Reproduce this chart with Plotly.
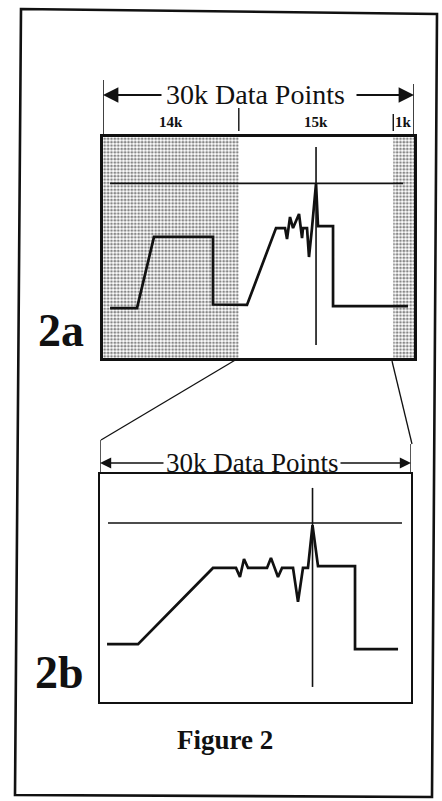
import plotly.graph_objects as go

W, H = 442, 801


def px_x(p):
    return p / W


def px_y(p):
    return 1 - p / H


# ---------------- data (x in thousands of data points, y amplitude 0-100) -------------
# Figure 2a: full 30k record
A_SIG_X = [0.68, 3.28, 4.92, 10.61, 10.61, 13.89, 16.69, 17.56, 17.75, 18.04, 18.33, 18.91,
           19.20, 19.29, 19.68, 19.87, 20.16, 20.55, 20.74, 22.19, 22.19, 29.42]
A_SIG_Y = [22.6, 22.6, 54.8, 54.8, 24.2, 24.0, 58.8, 58.8, 53.8, 63.8, 58.8, 65.2,
           54.3, 58.8, 58.8, 45.7, 58.8, 79.0, 59.7, 59.7, 23.5, 23.5]
A_THRESH_X = [0.68, 28.94]
A_THRESH_Y = [79.0, 79.0]
A_CURSOR_X = [20.55, 20.55]
A_CURSOR_Y = [5.9, 95.5]
A_SHADE = [[0.0, 13.1], [28.0, 30.0]]
SEG_EDGES = [0.0, 13.1, 28.0, 30.0]
SEG_LABELS = ["14k", "15k", "1k"]

# Figure 2b: the 15k window re-displayed over 30k points
B_SIG_X = [0.68, 3.67, 10.90, 13.12, 13.50, 13.89, 14.28, 16.11, 16.49, 17.17, 17.56, 18.62,
           19.10, 19.58, 20.06, 20.50, 21.03, 24.60, 24.60, 28.75]
B_SIG_Y = [25.4, 25.4, 58.8, 58.8, 54.8, 62.7, 58.8, 58.8, 63.2, 54.8, 58.8, 58.8,
           43.9, 58.8, 58.8, 77.6, 59.6, 59.6, 23.2, 23.2]
B_THRESH_X = [0.77, 29.13]
B_THRESH_Y = [78.5, 78.5]
B_CURSOR_X = [20.5, 20.5]
B_CURSOR_Y = [6.6, 93.9]

HEADER_TEXT = "30k Data Points"
PANEL_LABELS = ["2a", "2b"]
CAPTION = "Figure 2"

SERIF = "Liberation Serif, Times New Roman, serif"
INK = "#111111"

fig = go.Figure()

# stippled (shaded) regions of 2a
for x0, x1 in A_SHADE:
    fig.add_trace(go.Scatter(
        x=[x0, x1, x1, x0, x0], y=[0, 0, 100, 100, 0], mode="lines",
        line=dict(width=0, color="rgba(0,0,0,0)"), fill="toself",
        fillcolor="rgba(0,0,0,0)",
        fillpattern=dict(shape=".", size=3.4, solidity=0.5, fgcolor="#111111", bgcolor="white"),
        xaxis="x", yaxis="y", hoverinfo="skip", showlegend=False))

# 2a traces
fig.add_trace(go.Scatter(x=A_THRESH_X, y=A_THRESH_Y, mode="lines",
                         line=dict(color=INK, width=1.6), xaxis="x", yaxis="y", showlegend=False))
fig.add_trace(go.Scatter(x=A_CURSOR_X, y=A_CURSOR_Y, mode="lines",
                         line=dict(color=INK, width=1.6), xaxis="x", yaxis="y", showlegend=False))
fig.add_trace(go.Scatter(x=A_SIG_X, y=A_SIG_Y, mode="lines",
                         line=dict(color=INK, width=2.7), xaxis="x", yaxis="y", showlegend=False))

# 2b traces
fig.add_trace(go.Scatter(x=B_THRESH_X, y=B_THRESH_Y, mode="lines",
                         line=dict(color=INK, width=1.6), xaxis="x2", yaxis="y2", showlegend=False))
fig.add_trace(go.Scatter(x=B_CURSOR_X, y=B_CURSOR_Y, mode="lines",
                         line=dict(color=INK, width=1.6), xaxis="x2", yaxis="y2", showlegend=False))
fig.add_trace(go.Scatter(x=B_SIG_X, y=B_SIG_Y, mode="lines",
                         line=dict(color=INK, width=2.7), xaxis="x2", yaxis="y2", showlegend=False))

axis_common = dict(showline=True, mirror=True, linecolor=INK, showgrid=False, zeroline=False,
                   showticklabels=False, ticks="", fixedrange=True)

fig.update_layout(
    width=W, height=H, margin=dict(l=0, r=0, t=0, b=0),
    paper_bgcolor="white", plot_bgcolor="rgba(0,0,0,0)", showlegend=False,
    xaxis=dict(domain=[px_x(103), px_x(414)], range=[0, 30], anchor="y", linewidth=2.6, **axis_common),
    yaxis=dict(domain=[px_y(358), px_y(137)], range=[0, 100], anchor="x", linewidth=2.6, **axis_common),
    xaxis2=dict(domain=[px_x(100), px_x(411)], range=[0, 30], anchor="y2", linewidth=2.2, **axis_common),
    yaxis2=dict(domain=[px_y(702), px_y(474)], range=[0, 100], anchor="x2", linewidth=2.2, **axis_common),
)

shapes = []
annotations = []

# ---- header of 2a ----
hdr_a = 95
shapes.append(dict(type="line", xref="x", yref="paper", x0=SEG_EDGES[0], x1=SEG_EDGES[0],
                   y0=px_y(80), y1=px_y(137), line=dict(color=INK, width=1.6)))
shapes.append(dict(type="line", xref="x", yref="paper", x0=SEG_EDGES[-1], x1=SEG_EDGES[-1],
                   y0=px_y(84), y1=px_y(137), line=dict(color=INK, width=1.6)))
shapes.append(dict(type="line", xref="x", yref="paper", x0=SEG_EDGES[1], x1=SEG_EDGES[1],
                   y0=px_y(108), y1=px_y(131), line=dict(color=INK, width=1.4)))
shapes.append(dict(type="line", xref="x", yref="paper", x0=SEG_EDGES[2], x1=SEG_EDGES[2],
                   y0=px_y(114), y1=px_y(131), line=dict(color=INK, width=1.4)))
annotations.append(dict(text=HEADER_TEXT, xref="x", yref="paper", x=14.7, y=px_y(hdr_a),
                        showarrow=False, font=dict(family=SERIF, size=28, color=INK),
                        xanchor="center", yanchor="middle"))
annotations.append(dict(text="", xref="x", yref="paper", x=SEG_EDGES[0], y=px_y(hdr_a),
                        ax=60, ay=0, showarrow=True, arrowhead=2, arrowsize=1.4,
                        arrowwidth=2.2, arrowcolor=INK))
annotations.append(dict(text="", xref="x", yref="paper", x=SEG_EDGES[-1], y=px_y(hdr_a),
                        ax=-59, ay=0, showarrow=True, arrowhead=2, arrowsize=1.4,
                        arrowwidth=2.2, arrowcolor=INK))
for i, lab in enumerate(SEG_LABELS):
    annotations.append(dict(text="<b>%s</b>" % lab, xref="x", yref="paper",
                            x=(SEG_EDGES[i] + SEG_EDGES[i + 1]) / 2, y=px_y(122),
                            showarrow=False, font=dict(family=SERIF, size=15, color=INK),
                            xanchor="center", yanchor="middle"))

# ---- connectors from 2a to 2b ----
shapes.append(dict(type="line", xref="paper", yref="paper", x0=px_x(237), y0=px_y(359),
                   x1=px_x(101), y1=px_y(440), line=dict(color=INK, width=1.3)))
shapes.append(dict(type="line", xref="paper", yref="paper", x0=px_x(392), y0=px_y(361),
                   x1=px_x(412), y1=px_y(444), line=dict(color=INK, width=1.3)))

# ---- header of 2b ----
hdr_b = 463
shapes.append(dict(type="line", xref="x2", yref="paper", x0=0, x1=0,
                   y0=px_y(440), y1=px_y(474), line=dict(color=INK, width=1.4)))
shapes.append(dict(type="line", xref="x2", yref="paper", x0=30, x1=30,
                   y0=px_y(444), y1=px_y(474), line=dict(color=INK, width=1.4)))
annotations.append(dict(text=HEADER_TEXT, xref="x2", yref="paper", x=14.7, y=px_y(hdr_b),
                        showarrow=False, font=dict(family=SERIF, size=27, color=INK),
                        xanchor="center", yanchor="middle"))
annotations.append(dict(text="", xref="x2", yref="paper", x=0, y=px_y(hdr_b),
                        ax=65, ay=0, showarrow=True, arrowhead=2, arrowsize=1.4,
                        arrowwidth=1.6, arrowcolor=INK))
annotations.append(dict(text="", xref="x2", yref="paper", x=30, y=px_y(hdr_b),
                        ax=-72, ay=0, showarrow=True, arrowhead=2, arrowsize=1.4,
                        arrowwidth=1.6, arrowcolor=INK))

# ---- panel labels and caption ----
annotations.append(dict(text="<b>%s</b>" % PANEL_LABELS[0], xref="paper", yref="paper",
                        x=px_x(61), y=px_y(330), showarrow=False,
                        font=dict(family=SERIF, size=46, color=INK), xanchor="center", yanchor="middle"))
annotations.append(dict(text="<b>%s</b>" % PANEL_LABELS[1], xref="paper", yref="paper",
                        x=px_x(59), y=px_y(672), showarrow=False,
                        font=dict(family=SERIF, size=46, color=INK), xanchor="center", yanchor="middle"))
annotations.append(dict(text="<b>%s</b>" % CAPTION, xref="paper", yref="paper",
                        x=px_x(225), y=px_y(740), showarrow=False,
                        font=dict(family=SERIF, size=27, color=INK), xanchor="center", yanchor="middle"))

# ---- outer frame ----
corners = [(21, 9), (437, 14), (432, 797), (15, 795)]
path = "M " + " L ".join("%f,%f" % (px_x(cx), px_y(cy)) for cx, cy in corners) + " Z"
shapes.append(dict(type="path", xref="paper", yref="paper", path=path,
                   line=dict(color=INK, width=2.6)))

fig.update_layout(shapes=shapes, annotations=annotations)

fig.write_html("out.html", config={"displayModeBar": False, "staticPlot": True},
               post_script="document.body.style.margin='0px';document.body.style.overflow='hidden';")
